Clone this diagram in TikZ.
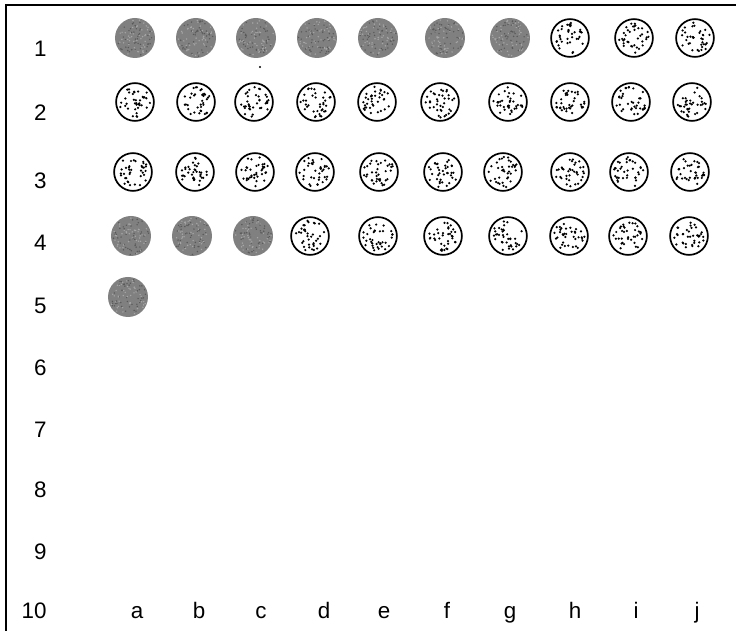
\documentclass[tikz,border=0pt]{standalone}
\usepackage{fontspec}
\setmainfont{Liberation Sans}
\begin{document}
\begin{tikzpicture}[x=0.5pt,y=-0.5pt,
  lab/.style={font=\fontsize{11.2}{13}\selectfont, inner sep=0pt},
  rowlab/.style={lab, anchor=base east},
  collab/.style={lab, anchor=base},
  dark/.style={circle, fill=black!50, minimum size=20pt, inner sep=0pt},
  light/.style={circle, draw=black, line width=0.85pt, fill=white, minimum size=18.9pt, inner sep=0pt},
  frameline/.style={line width=1pt, black}]
\useasboundingbox (0,0) rectangle (736,631);
\pgfmathsetseed{7}
% frame
\coordinate (fb) at (6,631);
\coordinate (fc) at (6,5);
\coordinate (fr) at (736,5);
\draw[frameline] (fb) -- (fc) -- (fr);
% row labels
\foreach \t/\yy in {1/57,2/121,3/189,4/251,5/314,6/376,7/438,8/498,9/560,10/619}
  \node[rowlab] (row\t) at (47,\yy) {\t};
% column labels
\foreach \t/\xx in {a/137,b/199,c/261,d/324,e/384,f/447,g/510,h/575,i/636,j/697}
  \node[collab] (col\t) at (\xx,619) {\t};
% dark circles
\foreach \n/\cx/\cy in {r1a/135/38,r1b/196/38,r1c/256/38,r1d/317/38,r1e/378/38,r1f/445/38,r1g/510/38,
  r4a/131/236,r4b/192/236,r4c/253/236,r5a/128/297} {
  \node[dark] (\n) at (\cx,\cy) {};
  \foreach \k in {1,...,45} {
    \pgfmathsetmacro\rr{18.5*sqrt(rnd)}
    \pgfmathsetmacro\aa{360*rnd}
    \fill[black!65] (\n.center) ++(\aa:\rr) circle (0.4pt);
    \pgfmathsetmacro\rr{18.5*sqrt(rnd)}
    \pgfmathsetmacro\aa{360*rnd}
    \fill[black!35] (\n.center) ++(\aa:\rr) circle (0.4pt);
  }
}
% light speckled circles
\foreach \n/\cx/\cy in {r1h/570/38,r1i/634/38,r1j/695/38,
  r2a/135/102,r2b/196/102,r2c/254/102,r2d/316/102,r2e/377/102,r2f/440/102,r2g/508/102,r2h/570/102,r2i/631/102,r2j/692/102,
  r3a/133/172,r3b/195/172,r3c/255/172,r3d/315/172,r3e/379/172,r3f/443/172,r3g/503/172,r3h/570/172,r3i/629/172,r3j/690/172,
  r4d/310/236,r4e/378/236,r4f/443/236,r4g/508/236,r4h/569/236,r4i/628/236,r4j/689/236} {
  \node[light] (\n) at (\cx,\cy) {};
  \foreach \k in {1,...,36} {
    \pgfmathsetmacro\rr{15.5*sqrt(rnd)}
    \pgfmathsetmacro\aa{360*rnd}
    \fill (\n.center) ++(\aa:\rr) circle (0.62pt);
  }
}
% stray speck
\coordinate (speck) at (260,67);
\fill (speck) circle (0.6pt);
\end{tikzpicture}
\end{document}
